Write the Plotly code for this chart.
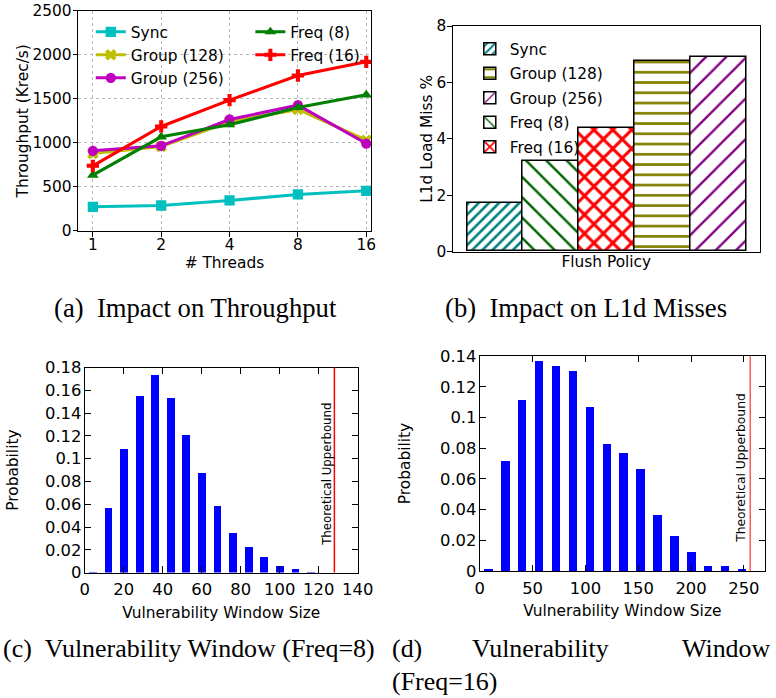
import plotly.graph_objects as go

# ---------------- data ----------------
threads = [1, 2, 4, 8, 16]
thr_sync = [273, 288, 345, 413, 455]
thr_group128 = [879, 958, 1240, 1379, 1030]
thr_group256 = [909, 966, 1265, 1428, 992]
thr_freq8 = [633, 1068, 1205, 1402, 1545]
thr_freq16 = [739, 1186, 1485, 1765, 1920]

policies = ["Sync", "Freq (8)", "Freq (16)", "Group (128)", "Group (256)"]
l1d_miss = [1.72, 3.22, 4.38, 6.77, 6.90]
legend_order = ["Sync", "Group (128)", "Group (256)", "Freq (8)", "Freq (16)"]

vw8_size = [4, 12, 20, 28, 36, 44, 52, 60, 68, 76, 84, 92, 100, 108, 116]
vw8_prob = [0.0004, 0.0571, 0.1086, 0.1551, 0.1735, 0.1534, 0.1209, 0.0875,
            0.0588, 0.0348, 0.0225, 0.0138, 0.0059, 0.0032, 0.0009]
vw8_bound = 128

vw16_size = [8, 24, 40, 56, 72, 88, 104, 120, 136, 152, 168, 184, 200, 216, 232, 248]
vw16_prob = [0.0013, 0.0717, 0.1115, 0.1370, 0.1337, 0.1304, 0.1070, 0.0828,
             0.0770, 0.0665, 0.0365, 0.0228, 0.0124, 0.0033, 0.0033, 0.0007]
vw16_bound = 256

# page placement compensation (observed rendering offset / scale)
SX, CX = 0.976, 4.0
SY, CY = 0.973, 8.2
K = 1 / 0.975
W = round((776 - CX) / SX)
H = round((698 - CY) / SY)
SANS = "DejaVu Sans"
SERIF = "Liberation Serif"


def px_x(p):
    return ((p - CX) / SX) / W


def px_y(p):
    return 1 - ((p - CY) / SY) / H


def k(v):
    return v * K


fig = go.Figure()

# ---------------- (a) throughput ----------------
line_specs = [
    ("Sync", thr_sync, "#00bfbf", "square", "legend"),
    ("Group (128)", thr_group128, "#bfbf00", "x", "legend"),
    ("Group (256)", thr_group256, "#bf00bf", "circle", "legend"),
    ("Freq (8)", thr_freq8, "#008000", "triangle-up", "legend2"),
    ("Freq (16)", thr_freq16, "#ff0000", "cross", "legend2"),
]
for name, ys, col, sym, lg in line_specs:
    fig.add_trace(go.Scatter(
        x=threads, y=ys, name=name, mode="lines+markers",
        line=dict(color=col, width=k(3)),
        marker=dict(symbol=sym, size=k(10), color=col),
        xaxis="x", yaxis="y", legend=lg,
    ))

# ---------------- (b) L1d misses ----------------
bar_styles = {
    "Sync": dict(shape="/", fgcolor="#008080", size=7, solidity=0.36),
    "Freq (8)": dict(shape="\\", fgcolor="#006400", size=14, solidity=0.17),
    "Freq (16)": dict(shape="x", fgcolor="#ff0000", size=13, solidity=0.4),
    "Group (128)": dict(shape="-", fgcolor="#808000", size=10, solidity=0.26),
    "Group (256)": dict(shape="/", fgcolor="#800080", size=14, solidity=0.16),
}
for name, val in zip(policies, l1d_miss):
    st = bar_styles[name]
    fig.add_trace(go.Bar(
        x=[name], y=[val], name=name, width=1, legendgroup=name,
        marker=dict(color="white", line=dict(color="black", width=1.5),
                    pattern=dict(shape=st["shape"], fgcolor=st["fgcolor"], fgopacity=1,
                                 bgcolor="white", size=k(st["size"]),
                                 solidity=st["solidity"], fillmode="overlay")),
        legendrank=legend_order.index(name) + 1,
        xaxis="x2", yaxis="y2", legend="legend3",
    ))

# ---------------- (c) & (d) vulnerability windows ----------------
fig.add_trace(go.Bar(x=vw8_size, y=vw8_prob, width=4, marker=dict(color="#0000ff", line=dict(width=0)),
                     showlegend=False, xaxis="x3", yaxis="y3"))
fig.add_trace(go.Bar(x=vw16_size, y=vw16_prob, width=8, marker=dict(color="#0000ff", line=dict(width=0)),
                     showlegend=False, xaxis="x4", yaxis="y4"))

fig.add_shape(type="line", xref="x3", yref="y3 domain", x0=vw8_bound, x1=vw8_bound, y0=0, y1=1,
              line=dict(color="#ff0000", width=1.5))
fig.add_shape(type="line", xref="x4", yref="y4 domain", x0=vw16_bound, x1=vw16_bound, y0=0, y1=1,
              line=dict(color="#ff5a5a", width=1.5))

fig.add_annotation(x=vw8_bound, y=0.086, xref="x3", yref="y3", text="Theoretical Upperbound",
                   textangle=-90, showarrow=False, xshift=-k(8),
                   font=dict(family=SANS, size=k(11.5), color="black"))
fig.add_annotation(x=vw16_bound, y=0.0672, xref="x4", yref="y4", text="Theoretical Upperbound",
                   textangle=-90, showarrow=False, xshift=-k(9),
                   font=dict(family=SANS, size=k(12), color="black"))

# ---------------- axes ----------------
tickfont = dict(family=SANS, size=k(15), color="black")
gtickfont = dict(family=SANS, size=k(16), color="black")
titlefont = dict(family=SANS, size=k(15), color="black")
legfont = dict(family=SANS, size=k(15), color="black")

fig.update_layout(
    width=W, height=H, margin=dict(l=0, r=0, t=0, b=0),
    paper_bgcolor="white", plot_bgcolor="white",
    barmode="overlay", bargap=0,
    font=dict(family=SANS, size=k(15), color="black"),
    xaxis=dict(domain=[px_x(77), px_x(371)], type="log",
               range=[-0.22 * 0.30103, 4.07 * 0.30103],
               tickvals=threads, ticktext=[str(t) for t in threads],
               ticks="outside", ticklen=k(5), tickcolor="black", ticklabelstandoff=-5,
               showline=True, linecolor="black", linewidth=1, mirror=True,
               showgrid=True, gridcolor="#b8b8b8", griddash="dot", gridwidth=1,
               zeroline=False, tickfont=tickfont,
               title=dict(text="# Threads", font=titlefont, standoff=2),
               anchor="y"),
    yaxis=dict(domain=[px_y(230), px_y(10)], range=[0, 2500], dtick=500,
               ticks="outside", ticklen=k(4), tickcolor="black", ticklabelstandoff=-2,
               showline=True, linecolor="black", linewidth=1, mirror=True,
               showgrid=True, gridcolor="#b8b8b8", griddash="dot", gridwidth=1,
               zeroline=False, tickfont=tickfont,
               title=dict(text="Throughput (Krec/s)", font=titlefont, standoff=0),
               anchor="x"),
    xaxis2=dict(domain=[px_x(452.7), px_x(761)], type="category",
                categoryorder="array", categoryarray=policies,
                range=[-0.76, 4.745], showticklabels=False, ticks="",
                showline=True, linecolor="black", linewidth=1, mirror=True,
                showgrid=False, zeroline=False,
                title=dict(text="Flush Policy", font=titlefont, standoff=4),
                anchor="y2"),
    yaxis2=dict(domain=[px_y(250.7), px_y(25.3)], range=[0, 8], dtick=2,
                ticks="outside", ticklen=k(4), tickcolor="black", ticklabelstandoff=-2,
                showline=True, linecolor="black", linewidth=1, mirror=True,
                showgrid=False, zeroline=False, tickfont=tickfont,
                title=dict(text="L1d Load Miss %", font=titlefont, standoff=0),
                anchor="x2"),
    xaxis3=dict(domain=[px_x(84), px_x(357.7)], range=[0, 140], dtick=20,
                ticks="inside", ticklen=k(6), tickcolor="black", ticklabelstandoff=2,
                showline=True, linecolor="black", linewidth=1, mirror="ticks",
                showgrid=False, zeroline=False, tickfont=gtickfont,
                title=dict(text="Vulnerability Window Size", font=titlefont, standoff=8),
                anchor="y3"),
    yaxis3=dict(domain=[px_y(571.7), px_y(366.7)], range=[0, 0.18],
                tickvals=[0, 0.02, 0.04, 0.06, 0.08, 0.1, 0.12, 0.14, 0.16, 0.18],
                ticktext=["0", "0.02", "0.04", "0.06", "0.08", "0.1", "0.12", "0.14", "0.16", "0.18"],
                ticks="inside", ticklen=k(6), tickcolor="black", ticklabelstandoff=-1,
                showline=True, linecolor="black", linewidth=1, mirror="ticks",
                showgrid=False, zeroline=False, tickfont=gtickfont,
                title=dict(text="Probability", font=titlefont, standoff=22),
                anchor="x3"),
    xaxis4=dict(domain=[px_x(480), px_x(766)], range=[0, 270], dtick=50,
                ticks="inside", ticklen=k(6), tickcolor="black", ticklabelstandoff=2,
                showline=True, linecolor="black", linewidth=1, mirror="ticks",
                showgrid=False, zeroline=False, tickfont=gtickfont,
                title=dict(text="Vulnerability Window Size", font=titlefont, standoff=8),
                anchor="y4"),
    yaxis4=dict(domain=[px_y(570), px_y(355.3)], range=[0, 0.14],
                tickvals=[0, 0.02, 0.04, 0.06, 0.08, 0.1, 0.12, 0.14],
                ticktext=["0", "0.02", "0.04", "0.06", "0.08", "0.1", "0.12", "0.14"],
                ticks="inside", ticklen=k(6), tickcolor="black", ticklabelstandoff=-1,
                showline=True, linecolor="black", linewidth=1, mirror="ticks",
                showgrid=False, zeroline=False, tickfont=gtickfont,
                title=dict(text="Probability", font=titlefont, standoff=25),
                anchor="x4"),
    legend=dict(x=px_x(90), y=px_y(14.5), xanchor="left", yanchor="top",
                bgcolor="rgba(0,0,0,0)", font=legfont, tracegroupgap=0, itemwidth=30),
    legend2=dict(x=px_x(250), y=px_y(14.5), xanchor="left", yanchor="top",
                 bgcolor="rgba(0,0,0,0)", font=legfont, tracegroupgap=0, itemwidth=30),
    legend3=dict(x=px_x(470), y=px_y(31.5), xanchor="left", yanchor="top",
                 bgcolor="rgba(0,0,0,0)", font=legfont,
                 tracegroupgap=1.5, itemwidth=30, traceorder="grouped"),
)

# ---------------- captions ----------------
cap_ab = dict(family=SERIF, size=k(26), color="black")
cap_cd = dict(family=SERIF, size=k(25.3), color="black")


def caption(text, x, y, font, anchor="left"):
    fig.add_annotation(text=text, x=px_x(x), y=px_y(y), xref="paper", yref="paper",
                       xanchor=anchor, yanchor="middle", showarrow=False, font=font)


caption("(a)&nbsp;&nbsp;Impact on Throughput", 51, 307, cap_ab)
caption("(b)&nbsp;&nbsp;Impact on L1d Misses", 443, 307, cap_ab)
caption("(c)&nbsp;&nbsp;Vulnerability Window (Freq=8)", 0, 648, cap_cd)
caption("(d)", 390, 648, cap_cd)
caption("Vulnerability", 470, 648, cap_cd)
caption("Window", 774, 648, cap_cd, anchor="right")
caption("(Freq=16)", 390, 681, cap_cd)

fig.write_html("out.html")
